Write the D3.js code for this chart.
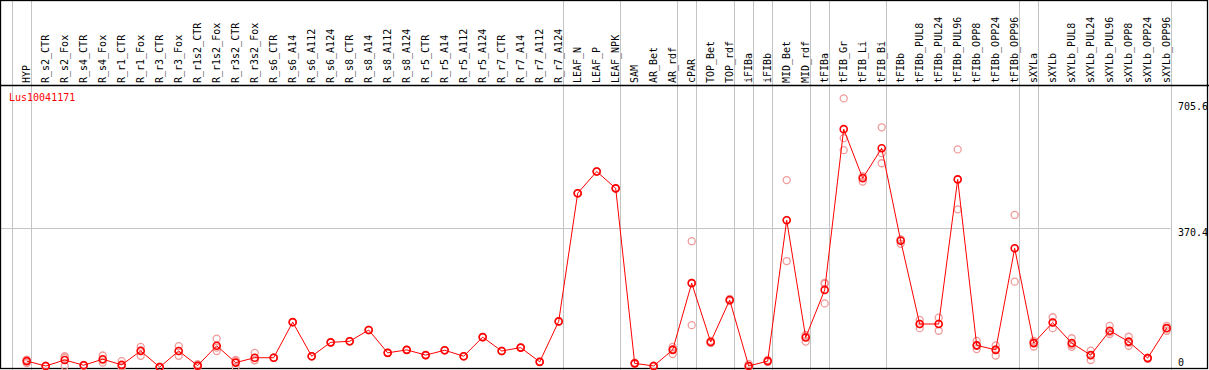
<!DOCTYPE html>
<html>
<head>
<meta charset="utf-8">
<script src="https://cdn.jsdelivr.net/npm/d3@7"></script>
<style>
  body { margin: 0; background: #fff; }
  svg { display: block; }
</style>
</head>
<body>
<div id="chart"></div>
<script>
// Data
const gene = 'Lus10041171';
const categories = ['HYP', 'R_s2_CTR', 'R_s2_Fox', 'R_s4_CTR', 'R_s4_Fox', 'R_r1_CTR', 'R_r1_Fox',
  'R_r3_CTR', 'R_r3_Fox', 'R_r1s2_CTR', 'R_r1s2_Fox', 'R_r3s2_CTR', 'R_r3s2_Fox', 'R_s6_CTR',
  'R_s6_A14', 'R_s6_A112', 'R_s6_A124', 'R_s8_CTR', 'R_s8_A14', 'R_s8_A112', 'R_s8_A124',
  'R_r5_CTR', 'R_r5_A14', 'R_r5_A112', 'R_r5_A124', 'R_r7_CTR', 'R_r7_A14', 'R_r7_A112', 'R_r7_A124',
  'LEAF_N', 'LEAF_P', 'LEAF_NPK', 'SAM', 'AR_Bet', 'AR_rdf', 'cPAR', 'TOP_Bet', 'TOP_rdf',
  'iFIBa', 'iFIBb', 'MID_Bet', 'MID_rdf', 'tFIBa', 'tFIB_Gr', 'tFIB_Li', 'tFIB_Bi', 'tFIBb',
  'tFIBb_PUL8', 'tFIBb_PUL24', 'tFIBb_PUL96', 'tFIBb_OPP8', 'tFIBb_OPP24', 'tFIBb_OPP96',
  'sXYLa', 'sXYLb', 'sXYLb_PUL8', 'sXYLb_PUL24', 'sXYLb_PUL96', 'sXYLb_OPP8', 'sXYLb_OPP24', 'sXYLb_OPP96'];

// category after which a group separator is drawn
const groupEnds = ['HYP', 'R_r7_A124', 'LEAF_NPK', 'AR_rdf', 'cPAR', 'TOP_rdf', 'iFIBa', 'iFIBb',
  'MID_rdf', 'tFIBa', 'tFIB_Bi', 'tFIBb_OPP96', 'sXYLa', 'sXYLb_OPP96'];

const means = [16, 3, 19, 5, 21, 6, 43, 0, 43, 4, 57, 12, 25, 25, 120, 29, 66, 69, 99, 38, 46,
  32, 45, 29, 80, 43, 52, 14, 122,
  464, 522, 477, 10, 3, 46, 224, 67, 179, 3, 16, 392, 79, 206, 635, 504, 584, 337,
  115, 115, 501, 58, 46, 317, 64, 119, 64, 32, 97, 68, 24, 104];

const rep1 = [20, 3, 29, 4, 31, 16, 54, 0, 56, 8, 76, 16, 38, 25, 120, 29, 66, 69, 99, 38, 46,
  32, 45, 29, 80, 43, 52, 14, 122,
  464, 522, 477, 10, 3, 54, 336, 67, 179, 8, 16, 499, 86, 225, 717, 508, 640, 341,
  126, 132, 581, 70, 58, 406, 70, 133, 77, 44, 110, 81, 24, 110];
const rep2 = [11, 2, 3, 5, 12, 0, 30, 0, 30, 1, 43, 0, 18, 25, 120, 29, 66, 69, 99, 38, 46,
  32, 45, 29, 80, 43, 52, 14, 122,
  464, 522, 477, 8, 2, 35, 112, 64, 182, 0, 14, 283, 68, 170, 611, 495, 571, 329,
  104, 97, 421, 48, 31, 228, 55, 104, 54, 19, 88, 57, 22, 97];
const rep3 = [18, 4, 25, 6, 19, 1, 45, 1, 43, 2, 52, 19, 19, 25, 120, 29, 66, 69, 99, 38, 46,
  32, 45, 29, 80, 43, 52, 14, 122,
  464, 522, 477, 12, 4, 48, 225, 70, 176, 1, 19, 393, 82, 222, 579, 509, 544, 340,
  115, 116, 501, 57, 47, 317, 66, 119, 59, 32, 93, 65, 25, 104];

const yTicks = [0, 370.4, 705.6];
const yGrid = [370.4];

// Visual
const width = 1209;
const height = 370;
const headerY = 85;
const red = '#ff0000';
const pink = '#f09a9a';
const grey = '#c4c4c4';
const font = '"DejaVu Sans Mono", "Liberation Mono", monospace';

const svg = d3.select('#chart')
  .append('svg')
  .attr('width', width)
  .attr('height', height);

const x = d3.scalePoint()
  .domain(categories)
  .range([26.7, 1166.7]);

const y = d3.scaleLinear()
  .domain([0, 705.6])
  .range([367.1, 102.7]);

const step = x.step();

// group separators
const sepX = [x(categories[0]) - step + 4].concat(groupEnds.map(c => x(c) + 4));
svg.selectAll('line.sep')
  .data(sepX)
  .enter()
  .append('line')
  .attr('class', 'sep')
  .attr('x1', d => Math.round(d) + 0.5)
  .attr('x2', d => Math.round(d) + 0.5)
  .attr('y1', 0)
  .attr('y2', height)
  .attr('stroke', grey)
  .attr('stroke-width', 1);

// horizontal grid
svg.selectAll('line.grid')
  .data(yGrid)
  .enter()
  .append('line')
  .attr('class', 'grid')
  .attr('x1', 0)
  .attr('x2', sepX[sepX.length - 1])
  .attr('y1', d => Math.round(y(d)) + 0.5)
  .attr('y2', d => Math.round(y(d)) + 0.5)
  .attr('stroke', grey)
  .attr('stroke-width', 1);

// frame + header line
svg.append('rect')
  .attr('x', 0.5)
  .attr('y', 0.5)
  .attr('width', width - 2)
  .attr('height', height - 2)
  .attr('fill', 'none')
  .attr('stroke', '#000')
  .attr('stroke-width', 1.3);

svg.append('line')
  .attr('x1', 0)
  .attr('x2', width)
  .attr('y1', headerY + 0.5)
  .attr('y2', headerY + 0.5)
  .attr('stroke', '#000')
  .attr('stroke-width', 1.3);

// category labels
svg.selectAll('text.cat')
  .data(categories)
  .enter()
  .append('text')
  .attr('class', 'cat')
  .attr('transform', d => `translate(${x(d) + 3.6},${headerY - 2}) rotate(-90)`)
  .attr('text-anchor', 'start')
  .style('font-family', font)
  .style('font-size', '10px')
  .attr('fill', '#000')
  .text(d => d);

// gene name
svg.append('text')
  .attr('x', 9)
  .attr('y', 101)
  .style('font-family', font)
  .style('font-size', '10px')
  .attr('fill', red)
  .text(gene);

// y labels
svg.selectAll('text.ytick')
  .data(yTicks)
  .enter()
  .append('text')
  .attr('class', 'ytick')
  .attr('x', 1178)
  .attr('y', d => Math.min(y(d) + 7.5, 365.5))
  .style('font-family', font)
  .style('font-size', '10px')
  .attr('fill', '#000')
  .text(d => d);

// replicates
const reps = [];
[rep1, rep2, rep3].forEach(r => r.forEach((v, i) => reps.push({ c: categories[i], v: v })));

svg.selectAll('circle.rep')
  .data(reps)
  .enter()
  .append('circle')
  .attr('class', 'rep')
  .attr('cx', d => x(d.c))
  .attr('cy', d => y(d.v))
  .attr('r', 3.5)
  .attr('fill', 'none')
  .attr('stroke', pink)
  .attr('stroke-width', 1.3);

// mean line
const line = d3.line()
  .x((d, i) => x(categories[i]))
  .y(d => y(d));

svg.append('path')
  .datum(means)
  .attr('d', line)
  .attr('fill', 'none')
  .attr('stroke', red)
  .attr('stroke-width', 1);

svg.selectAll('circle.mean')
  .data(means)
  .enter()
  .append('circle')
  .attr('class', 'mean')
  .attr('cx', (d, i) => x(categories[i]))
  .attr('cy', d => y(d))
  .attr('r', 3.5)
  .attr('fill', 'none')
  .attr('stroke', red)
  .attr('stroke-width', 1.6);
</script>
</body>
</html>
